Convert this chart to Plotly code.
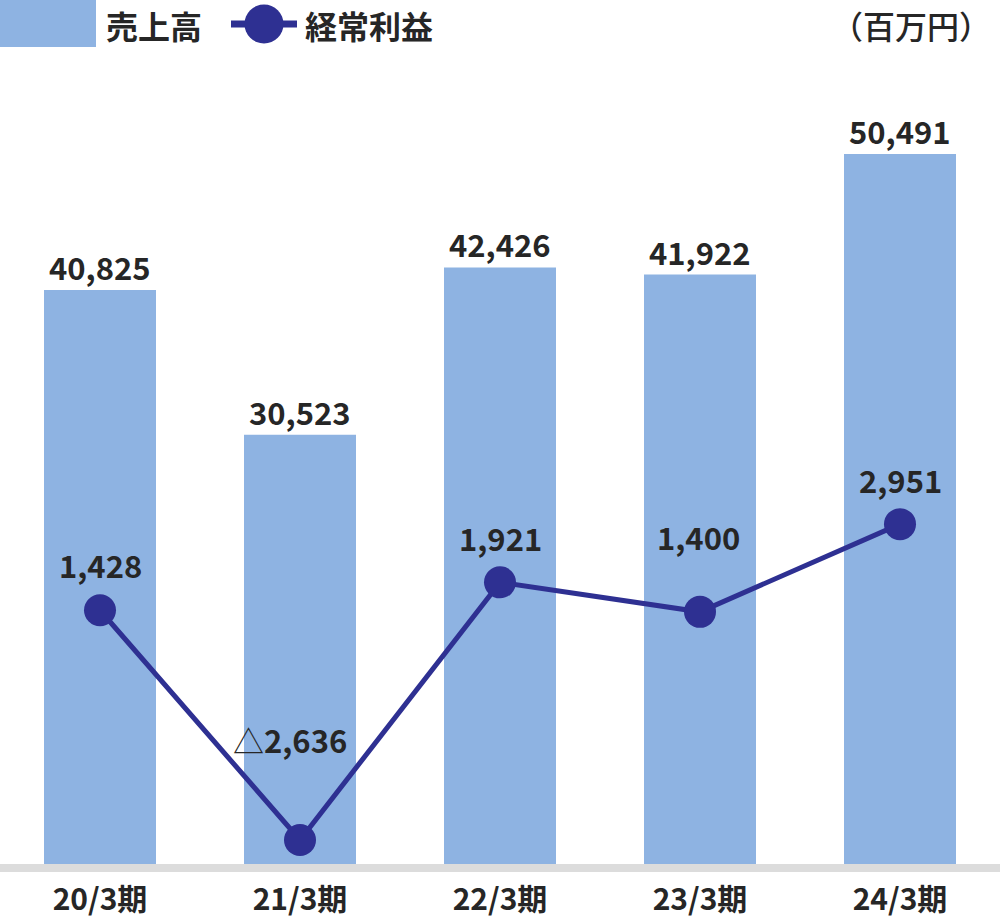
import plotly.graph_objects as go

# ---- data ----
periods = ["20/3期", "21/3期", "22/3期", "23/3期", "24/3期"]
sales = [40825, 30523, 42426, 41922, 50491]          # 売上高 (百万円)
ordinary_profit = [1428, -2636, 1921, 1400, 2951]    # 経常利益 (百万円)

# ---- styles ----
BAR_COLOR = "#8EB3E2"
LINE_COLOR = "#2E3092"
TEXT_COLOR = "#262626"
FONT = "Noto Sans CJK JP"
W, H = 1000, 920
PLOT_BOTTOM = 864  # px from top where plot area ends

def fmt(v):
    return ("△" if v < 0 else "") + f"<b>{abs(v):,}</b>"

fig = go.Figure()
fig.add_trace(go.Bar(
    x=periods, y=sales, name="売上高",
    marker=dict(color=BAR_COLOR, line=dict(width=0)),
    width=0.56, yaxis="y", showlegend=False, hoverinfo="skip",
))
fig.add_trace(go.Scatter(
    x=periods, y=ordinary_profit, name="経常利益", yaxis="y2",
    mode="lines+markers",
    line=dict(color=LINE_COLOR, width=5),
    marker=dict(color=LINE_COLOR, size=32),
    showlegend=False, hoverinfo="skip", cliponaxis=False,
))

annotations = []
for p, s in zip(periods, sales):
    annotations.append(dict(
        x=p, y=s, xref="x", yref="y", text=f"<b>{s:,}</b>",
        showarrow=False, yanchor="bottom", xanchor="center", yshift=-1,
        font=dict(family=FONT, size=31, color=TEXT_COLOR),
    ))
label_shift = [21, 76, 20, 51, 20]
label_xshift = [0, -10, 0, -2, 0]
for p, v, ys, xs in zip(periods, ordinary_profit, label_shift, label_xshift):
    annotations.append(dict(
        x=p, y=v, xref="x", yref="y2", text=fmt(v),
        showarrow=False, yanchor="bottom", xanchor="center",
        yshift=ys, xshift=xs,
        font=dict(family=FONT, size=31, color=TEXT_COLOR),
    ))

# legend texts
def py(yp):
    return 1 - yp / PLOT_BOTTOM

annotations += [
    dict(x=104 / W, y=py(25), xref="paper", yref="paper", text="<b>売上高</b>",
         showarrow=False, xanchor="left", yanchor="middle",
         font=dict(family=FONT, size=32, color=TEXT_COLOR)),
    dict(x=303 / W, y=py(25), xref="paper", yref="paper", text="<b>経常利益</b>",
         showarrow=False, xanchor="left", yanchor="middle",
         font=dict(family=FONT, size=32, color=TEXT_COLOR)),
    dict(x=993 / W, y=py(25), xref="paper", yref="paper", text="（百万円）",
         showarrow=False, xanchor="right", yanchor="middle",
         font=dict(family=FONT, size=32, color=TEXT_COLOR, weight=500)),
]

shapes = [
    dict(type="rect", xref="paper", yref="paper", x0=0, x1=96 / W,
         y0=py(47), y1=py(0), fillcolor=BAR_COLOR, line=dict(width=0)),
    dict(type="line", xref="paper", yref="paper", x0=231 / W, x1=297 / W,
         y0=py(24), y1=py(24), line=dict(color=LINE_COLOR, width=7)),
    dict(type="circle", xref="paper", yref="paper", x0=244.5 / W, x1=283.5 / W,
         y0=py(43.5), y1=py(4.5), fillcolor=LINE_COLOR, line=dict(width=0)),
]

fig.update_layout(
    width=W, height=H,
    margin=dict(l=0, r=0, t=0, b=H - PLOT_BOTTOM, pad=0),
    paper_bgcolor="white", plot_bgcolor="white",
    font=dict(family=FONT, color=TEXT_COLOR),
    xaxis=dict(
        type="category", range=[-0.5, 4.5], showgrid=False, zeroline=False,
        showline=True, linecolor="#DCDCDC", linewidth=8, ticks="",
        tickfont=dict(family=FONT, size=30, color=TEXT_COLOR, weight="bold"),
        ticklabelstandoff=2,
    ),
    yaxis=dict(range=[0, 50491 * PLOT_BOTTOM / 710], visible=False, fixedrange=True),
    yaxis2=dict(range=[-3061, 12223], overlaying="y", visible=False),
    annotations=annotations, shapes=shapes,
    bargap=0.44,
)

fig.write_html("out.html")
